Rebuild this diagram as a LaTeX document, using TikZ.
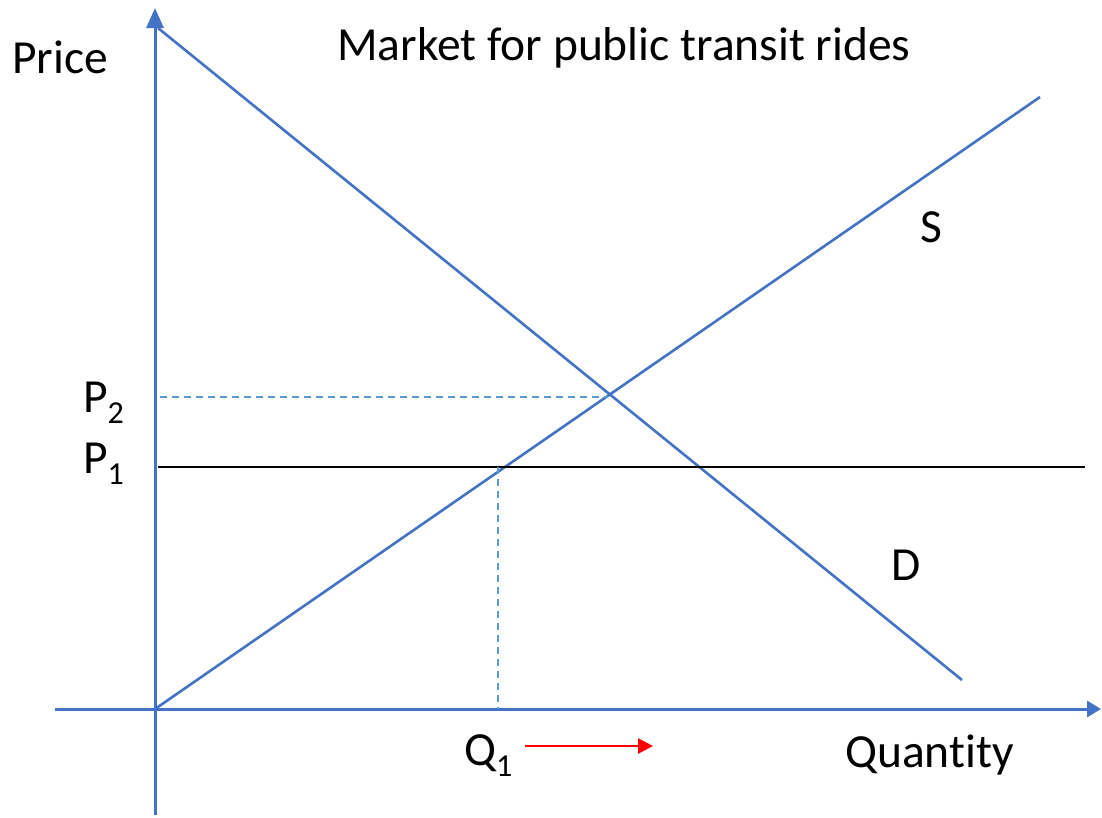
\documentclass[tikz,border=0pt]{standalone}
\usepackage{fontspec}
\setmainfont[Ligatures=NoCommon]{Carlito}
\usetikzlibrary{arrows.meta}
\definecolor{axisblue}{HTML}{4472C4}
\definecolor{dashblue}{HTML}{5B9BD5}
\begin{document}
\begin{tikzpicture}[x=1pt,y=-1pt,
  axisline/.style={draw=axisblue,line width=3pt},
  curve/.style={draw=axisblue,line width=2.6pt},
  guide/.style={draw=dashblue,line width=1.6pt,dash pattern=on 7pt off 5pt},
  lbl/.style={anchor=base west,inner sep=0pt,font=\fontsize{47.5}{54}\selectfont}]
\useasboundingbox (0,0) rectangle (1102,817);
% axes
\coordinate (yb) at (155,815);
\coordinate (yt) at (155,8);
\coordinate (xl) at (55,709);
\coordinate (xr) at (1101,709);
\draw[axisline,-{Triangle[length=20pt,width=17pt]}] (yb) -- (yt);
\draw[axisline,-{Triangle[length=14pt,width=16pt]}] (xl) -- (xr);
% demand and supply
\coordinate (d0) at (158,28);
\coordinate (d1) at (962,680);
\coordinate (s0) at (155,709);
\coordinate (s1) at (1040,97);
\draw[curve] (d0) -- (d1);
\draw[curve] (s0) -- (s1);
% guides
\coordinate (p2a) at (160,397);
\coordinate (p2b) at (608,397);
\draw[guide] (p2a) -- (p2b);
\coordinate (p1a) at (158,467);
\coordinate (p1b) at (1085,467);
\draw[black,line width=2.2pt] (p1a) -- (p1b);
\coordinate (q1a) at (498,467);
\coordinate (q1b) at (498,709);
\draw[guide] (q1a) -- (q1b);
% red arrow
\coordinate (ra) at (525,746);
\coordinate (rb) at (653,746);
\draw[red,line width=2.6pt,-{Triangle[length=15pt,width=15pt]}] (ra) -- (rb);
% labels
\node[lbl] (price) at (12,73) {Price};
\node[lbl] (title) at (337,60) {Market for public transit rides};
\node[lbl] (S) at (920,242) {S};
\node[lbl] (D) at (891,580) {D};
\node[lbl] (quantity) at (845,767) {Quantity};
\node[lbl] (P2) at (83,412) {P\raisebox{-11pt}{\fontsize{32}{32}\selectfont 2}};
\node[lbl] (P1) at (83,473) {P\raisebox{-11pt}{\fontsize{32}{32}\selectfont 1}};
\node[lbl] (Q1) at (464,765) {Q\raisebox{-11pt}{\fontsize{32}{32}\selectfont 1}};
\end{tikzpicture}
\end{document}
